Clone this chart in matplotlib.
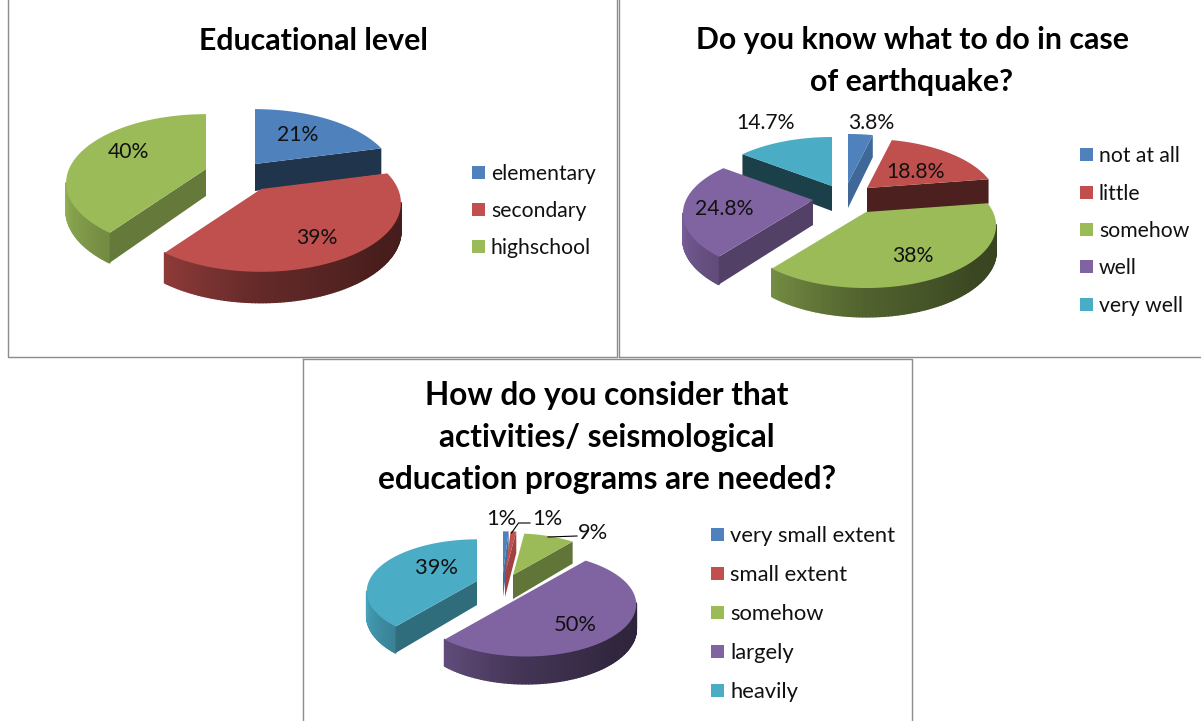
import matplotlib
matplotlib.use("Agg")
import matplotlib.pyplot as plt
from matplotlib.collections import PolyCollection
from matplotlib.patches import Polygon, Rectangle
import numpy as np

plt.rcParams['font.family'] = ['Lato', 'DejaVu Sans']

# survey answers, in percent
edu_labels = ["elementary", "secondary", "highschool"]
edu_values = [21, 39, 40]
know_labels = ["not at all", "little", "somehow", "well", "very well"]
know_values = [3.8, 18.8, 38, 24.8, 14.7]
need_labels = ["very small extent", "small extent", "somehow", "largely", "heavily"]
need_values = [1, 1, 9, 50, 39]

edu_title = ["Educational level"]
know_title = ["Do you know what to do in case", "of earthquake?"]
need_title = ["How do you consider that", "activities/ seismological",
              "education programs are needed?"]

edu_colors = ["#4F81BD", "#C0504D", "#9BBB59"]
five_colors = ["#4F81BD", "#C0504D", "#9BBB59", "#8064A2", "#4BACC6"]


def project(theta, a, b, p):
    # perspective view of the unit circle, the pie centre stays at (0, 0)
    w = 1 + p * np.sin(theta)
    return a * np.cos(theta) / w, -b * np.sin(theta) / w


def shade(color, k):
    return tuple(np.array(matplotlib.colors.to_rgb(color)) * k)


def rim_level(theta):
    # the curved side goes dark from left to right
    deg = np.degrees(theta)
    deg = (deg + 180) % 360 - 180
    return np.interp(deg, [-180, -126, -90, -45, 0], [1.0, 0.74, 0.52, 0.38, 0.35])


def face_level(normal_deg):
    # flat cut faces, lit by where they point
    return np.interp(normal_deg, [-127, -75, -36, -14, -3], [0.37, 0.40, 0.65, 0.80, 0.85])


def draw_slice(ax, color, apex, t_start, t_end, a, b, p, depth):
    # t_start > t_end, the pie runs clockwise
    ax0, ay0 = apex
    thetas = np.linspace(t_start, t_end, 120)
    x, y = project(thetas, a, b, p)
    x = x + ax0
    y = y + ay0
    drop = depth / (1 + 0.6 * p * np.sin(thetas))

    # curved side, small quads so the shading steps do not show
    quads, cols = [], []
    for i in range(len(thetas) - 1):
        if np.sin(thetas[i]) > -p and np.sin(thetas[i + 1]) > -p:
            continue
        quads.append([(x[i], y[i]), (x[i + 1], y[i + 1]),
                      (x[i + 1], y[i + 1] + drop[i + 1]), (x[i], y[i] + drop[i])])
        cols.append(shade(color, rim_level(thetas[i])))
    if quads:
        ax.add_collection(PolyCollection(quads, facecolors=cols, edgecolors=cols, linewidths=1.2))

    # cut faces
    if np.cos(t_start) < 0:
        n = (np.degrees(t_start) + 90 + 180) % 360 - 180
        ax.add_patch(Polygon([(ax0, ay0), (x[0], y[0]), (x[0], y[0] + drop[0]), (ax0, ay0 + depth)],
                             facecolor=shade(color, face_level(n)), edgecolor="none"))
    if np.cos(t_end) > 0:
        n = (np.degrees(t_end) - 90 + 180) % 360 - 180
        ax.add_patch(Polygon([(ax0, ay0), (x[-1], y[-1]), (x[-1], y[-1] + drop[-1]), (ax0, ay0 + depth)],
                             facecolor=shade(color, face_level(n)), edgecolor="none"))

    # top
    pts = [(ax0, ay0)] + list(zip(x, y))
    ax.add_patch(Polygon(pts, facecolor=color, edgecolor="none"))


def draw_pie(ax, values, colors, apexes, a, b, p, depth):
    values = np.array(values, dtype=float)
    fracs = values / values.sum()
    ends = np.pi / 2 - 2 * np.pi * np.cumsum(fracs)
    starts = np.r_[np.pi / 2, ends[:-1]]
    mids = (starts + ends) / 2
    # back slices first
    for i in np.argsort(-np.sin(mids)):
        draw_slice(ax, colors[i], apexes[i], starts[i], ends[i], a, b, p, depth)


def draw_legend(ax, labels, colors, x, ys, size):
    for lab, col, y in zip(labels, colors, ys):
        ax.add_patch(Rectangle((x, y - 6.5), 13, 13, facecolor=col, edgecolor="none"))
        ax.text(x + 19, y, lab, fontsize=size, va="center_baseline", ha="left", color="#111111")


def draw_values(ax, values, spots, size):
    for v, (x, y) in zip(values, spots):
        ax.text(x, y, f"{v:g}%", fontsize=size, ha="center", va="center_baseline", color="#111111")


def draw_title(ax, lines, x, ys, size):
    for line, y in zip(lines, ys):
        ax.text(x, y, line, fontsize=size, fontweight="bold", ha="center",
                va="center_baseline", color="black")


fig = plt.figure(figsize=(12.01, 7.21), dpi=100)
ax = fig.add_axes([0, 0, 1, 1])
ax.set_xlim(0, 1201)
ax.set_ylim(721, 0)
ax.axis("off")

# panel frames
frame = "#8C8C8C"
ax.plot([8, 8, 617, 617], [0, 357, 357, 0], color=frame, lw=1.0)
ax.plot([619, 619], [0, 357], color=frame, lw=1.0)
ax.plot([619, 1201], [357, 357], color=frame, lw=1.0)
ax.plot([303, 303], [721, 359], color=frame, lw=1.0)
ax.plot([303, 912, 912], [359, 359, 721], color=frame, lw=1.0)

# education
draw_pie(ax, edu_values, edu_colors, [(255, 164), (261, 189), (206, 169)], 137, 66, 0.203, 27)
draw_title(ax, edu_title, 313, [38], 21.8)
draw_values(ax, edu_values, [(298, 133), (317, 236), (128, 150)], 15.2)
draw_legend(ax, edu_labels, edu_colors, 472, [172, 209, 246], 15.2)

# earthquake knowledge
draw_pie(ax, know_values, five_colors,
         [(848, 183), (867, 188), (866, 212), (813, 200), (832, 186)], 127, 59.6, 0.216, 25)
draw_title(ax, know_title, 912, [38, 79], 21.8)
draw_values(ax, know_values, [(871, 121), (916, 170), (913, 254), (724, 207), (766, 121)], 15.2)
draw_legend(ax, know_labels, five_colors, 1080, [154, 192, 229, 266, 304], 15.2)

# education programs
draw_pie(ax, need_values, five_colors,
         [(503, 573), (505, 573), (513, 575), (526, 594), (477, 581)], 108, 50, 0.2, 24)
draw_title(ax, need_title, 607, [393, 435, 477], 22.8)
draw_values(ax, need_values, [(501, 517), (547, 517), (593, 531), (575, 623), (436, 566)], 15.75)
draw_legend(ax, need_labels, five_colors, 711, [534, 573, 612, 651, 690], 15.8)
ax.plot([511.5, 518.5, 530], [533, 523, 523], color="black", lw=0.8)
ax.plot([548, 577], [537, 536], color="black", lw=0.8)

fig.savefig("out.png", dpi=100)
